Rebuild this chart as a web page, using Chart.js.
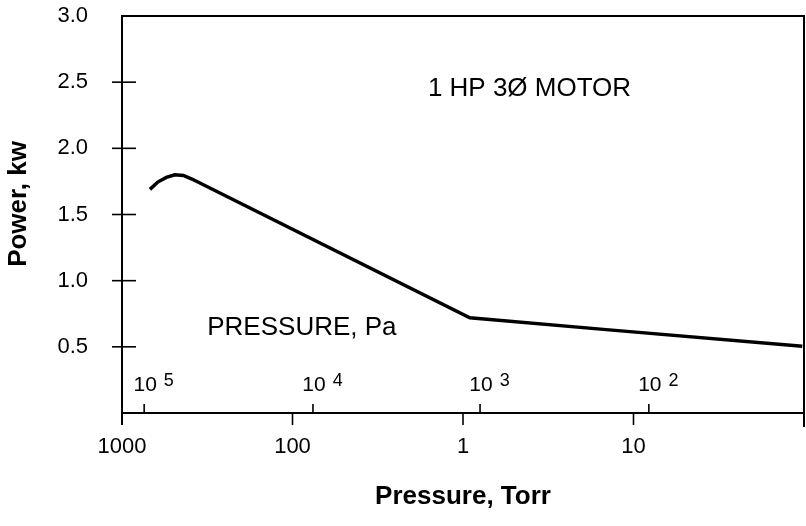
<!DOCTYPE html>
<html>
<head>
<meta charset="utf-8">
<script src="https://cdn.jsdelivr.net/npm/chart.js@4/dist/chart.umd.min.js"></script>
<style>
  html, body { margin: 0; padding: 0; background: #fff; }
  #wrap { width: 806px; height: 526px; }
</style>
</head>
<body>
<div id="wrap"><canvas id="myChart" width="806" height="526"></canvas></div>
<script>
// x is measured in decades of pressure from the left edge (1000 Torr)
const torrLabels = ['1000', '100', '1', '10'];
const torrTicks = [0, 1, 2, 3];
const paExponents = ['5', '4', '3', '2'];
const paTicks = [0.13, 1.12, 2.1, 3.09];
const powerTicks = [0.5, 1.0, 1.5, 2.0, 2.5, 3.0];

const curveX = [0.164, 0.21, 0.26, 0.31, 0.36, 0.41, 2.04, 2.84, 3.99];
const curveY = [1.69, 1.745, 1.78, 1.80, 1.795, 1.768, 0.72, 0.63, 0.505];

const motorLabel = { text: '1 HP 3\u00D8 MOTOR', x: 2.39, y: 2.45 };
const paLabel = { text: 'PRESSURE, Pa', x: 0.5, y: 0.64 };
const paLabelY = 0.23;

const FONT = '"Liberation Sans", Arial, Helvetica, sans-serif';

const points = curveX.map((x, i) => ({ x: x, y: curveY[i] }));

const decorations = {
  id: 'decorations',
  afterDatasetsDraw(chart) {
    const ctx = chart.ctx;
    const xs = chart.scales.x;
    const ys = chart.scales.y;
    const a = chart.chartArea;
    ctx.save();
    ctx.strokeStyle = '#000';
    ctx.fillStyle = '#000';
    ctx.lineWidth = 2;
    // frame
    ctx.beginPath();
    ctx.moveTo(a.left, a.bottom + 12);
    ctx.lineTo(a.left, a.top);
    ctx.lineTo(a.right, a.top);
    ctx.lineTo(a.right, a.bottom + 14);
    ctx.moveTo(a.left, a.bottom);
    ctx.lineTo(a.right, a.bottom);
    ctx.stroke();

    // power tick crosses
    ctx.lineWidth = 1.6;
    powerTicks.forEach(v => {
      if (v >= 3) return;
      const py = ys.getPixelForValue(v);
      ctx.beginPath();
      ctx.moveTo(a.left - 10, py);
      ctx.lineTo(a.left + 14, py);
      ctx.stroke();
    });

    // torr ticks, below the axis
    torrTicks.forEach(v => {
      const px = xs.getPixelForValue(v);
      ctx.beginPath();
      ctx.moveTo(px, a.bottom);
      ctx.lineTo(px, a.bottom + 12);
      ctx.stroke();
    });

    // pa ticks, above the axis
    ctx.textBaseline = 'alphabetic';
    const baseY = ys.getPixelForValue(paLabelY) + 8;
    paTicks.forEach((v, i) => {
      const px = xs.getPixelForValue(v);
      ctx.beginPath();
      ctx.moveTo(px, a.bottom);
      ctx.lineTo(px, a.bottom - 9);
      ctx.stroke();
      ctx.font = '21px ' + FONT;
      ctx.textAlign = 'left';
      const w = ctx.measureText('10').width;
      ctx.fillText('10', px - w / 2 + 1, baseY);
      ctx.font = '18px ' + FONT;
      ctx.fillText(paExponents[i], px + w / 2 + 8, baseY - 5);
    });

    // annotations
    ctx.font = '26px ' + FONT;
    ctx.textBaseline = 'middle';
    ctx.textAlign = 'center';
    ctx.fillText(motorLabel.text, xs.getPixelForValue(motorLabel.x), ys.getPixelForValue(motorLabel.y));
    ctx.textAlign = 'left';
    ctx.fillText(paLabel.text, xs.getPixelForValue(paLabel.x), ys.getPixelForValue(paLabel.y));

    // y axis title
    ctx.font = 'bold 26px ' + FONT;
    ctx.translate(19, 204);
    ctx.rotate(-Math.PI / 2);
    ctx.textAlign = 'center';
    ctx.fillText('Power, kw', 0, 0);
    ctx.restore();
  }
};

const ctx = document.getElementById('myChart').getContext('2d');
new Chart(ctx, {
  type: 'line',
  data: {
    datasets: [{
      label: 'Power',
      data: points,
      borderColor: '#000',
      borderWidth: 3.5,
      pointRadius: 0,
      tension: 0,
      fill: false,
    }],
  },
  options: {
    responsive: false,
    animation: false,
    layout: { padding: { top: 16, right: 2, left: 0, bottom: 0 } },
    plugins: {
      legend: { display: false },
      tooltip: { enabled: false },
    },
    scales: {
      x: {
        type: 'linear',
        min: 0,
        max: 4,
        grid: { display: false, drawTicks: false },
        border: { display: false },
        afterFit: (scale) => {
          scale.height = 113;
          scale.paddingLeft = 0;
          scale.paddingRight = 0;
        },
        afterBuildTicks: (scale) => { scale.ticks = torrTicks.map(v => ({ value: v })); },
        ticks: {
          padding: 21,
          color: '#000',
          font: { family: FONT, size: 22 },
          maxRotation: 0,
          autoSkip: false,
          callback: (v) => torrLabels[torrTicks.indexOf(v)] ?? '',
        },
        title: {
          display: true,
          text: 'Pressure, Torr',
          color: '#000',
          font: { family: FONT, size: 26, weight: 'bold' },
          padding: { top: 0, bottom: 14 },
        },
      },
      y: {
        min: 0,
        max: 3,
        grid: { display: false, drawTicks: false },
        border: { display: false },
        afterFit: (scale) => {
          scale.width = 122;
          scale.paddingTop = 0;
          scale.paddingBottom = 0;
        },
        afterBuildTicks: (scale) => { scale.ticks = powerTicks.map(v => ({ value: v })); },
        ticks: {
          padding: 34,
          color: '#000',
          font: { family: FONT, size: 22 },
          callback: (v) => v.toFixed(1),
        },
      },
    },
  },
  plugins: [decorations],
});
</script>
</body>
</html>
